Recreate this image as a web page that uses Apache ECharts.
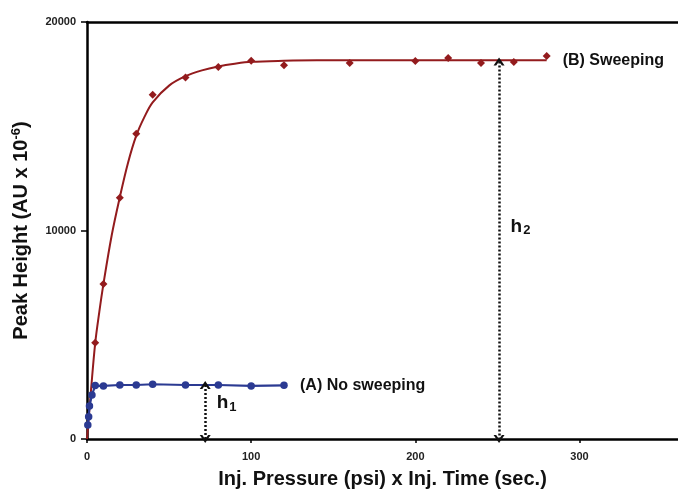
<!DOCTYPE html>
<html>
<head>
<meta charset="utf-8">
<script src="https://cdn.jsdelivr.net/npm/echarts@6/dist/echarts.min.js"></script>
<style>
  html, body { margin: 0; padding: 0; background: #fff; }
  #chart { width: 678px; height: 494px; }
</style>
</head>
<body>
<div id="chart"></div>
<script>
// Injection amount (psi x s) vs. peak height, with and without sweeping
const sweepX = [5, 10, 20, 30, 40, 60, 80, 100, 120, 160, 200, 220, 240, 260, 280];
const sweepY = [4620, 7430, 11570, 14640, 16510, 17340, 17840, 18140, 17920, 18030, 18130, 18270, 18030, 18080, 18370];

// Fitted saturation curve for the sweeping data
const fitX = [0, 2.5, 5, 7.5, 10, 15, 20, 25, 30, 35, 40, 50, 60, 70, 80, 90, 100, 120, 140, 165, 200, 240, 280];
const fitY = [0, 2400, 4600, 6100, 7430, 9750, 11600, 13250, 14550, 15450, 16150, 16950, 17400, 17680, 17870, 18000, 18090, 18140, 18160, 18160, 18160, 18160, 18160];

const noSweepX = [0.5, 1, 1.5, 3, 5, 10, 20, 30, 40, 60, 80, 100, 120];
const noSweepY = [670, 1070, 1580, 2110, 2560, 2545, 2590, 2590, 2625, 2590, 2590, 2545, 2575];

// Height markers h1 and h2: x position, top and bottom of the arrow
const hMarkX = [72, 251];
const hMarkTop = [2590, 18100];
const hNames = ['1', '2'];
const hLabelX = [79, 258];
const hLabelY = [1750, 10200];

const xTicks = [0, 100, 200, 300];
const yTicks = [0, 10000, 20000];

const RED = '#931b1d';
const BLUE = '#2b3a92';
const FONT = '"Liberation Sans", Arial, sans-serif';

const pairs = (xs, ys) => xs.map((x, i) => [x, ys[i]]);

// open arrow head drawn as a thick chevron
const chevron = 'path://M0,8 L5,0 L10,8 L7.6,8 L5,3.8 L2.4,8 Z';

const hLines = hMarkX.map((x, i) => [
  { coord: [x, hMarkTop[i]] },
  { coord: [x, 0] }
]);
const hPoints = hNames.map((n, i) => ({
  coord: [hLabelX[i], hLabelY[i]],
  value: n
}));

const chart = echarts.init(document.getElementById('chart'), null, { renderer: 'canvas' });

chart.setOption({
  backgroundColor: '#ffffff',
  animation: false,
  textStyle: { fontFamily: FONT },
  grid: { left: 87, top: 22, right: -3, bottom: 55, containLabel: false },
  xAxis: [
    {
      type: 'value',
      min: xTicks[0],
      max: 360,
      interval: xTicks[1] - xTicks[0],
      name: 'Inj. Pressure (psi) x Inj. Time (sec.)',
      nameLocation: 'middle',
      nameGap: 30,
      nameTextStyle: { fontSize: 20, fontWeight: 'bold', color: '#111', fontFamily: FONT },
      axisLine: { show: true, onZero: false, lineStyle: { color: '#000', width: 2.5 } },
      axisTick: { show: true, inside: false, length: 4, lineStyle: { color: '#000', width: 1.5 } },
      axisLabel: {
        margin: 12, fontSize: 11, fontWeight: 'bold', color: '#222', fontFamily: FONT,
        showMaxLabel: false,
        formatter: v => (xTicks.includes(v) ? String(v) : '')
      },
      splitLine: { show: false }
    },
    {
      type: 'value',
      position: 'top',
      min: 0,
      max: 360,
      axisLine: { show: true, onZero: false, lineStyle: { color: '#000', width: 2.5 } },
      axisTick: { show: false },
      axisLabel: { show: false },
      splitLine: { show: false }
    }
  ],
  yAxis: {
    type: 'value',
    min: yTicks[0],
    max: yTicks[yTicks.length - 1],
    interval: yTicks[1] - yTicks[0],
    name: '{t|Peak Height (AU x 10}{s|-6}{t|)}',
    nameLocation: 'middle',
    nameGap: 54,
    nameRotate: 90,
    nameTextStyle: {
      fontSize: 20, fontWeight: 'bold', color: '#111', fontFamily: FONT,
      rich: {
        t: { fontSize: 20, fontWeight: 'bold', color: '#111', fontFamily: FONT, lineHeight: 24 },
        s: { fontSize: 13, fontWeight: 'bold', color: '#111', fontFamily: FONT, lineHeight: 24, padding: [0, 0, 10, 0] }
      }
    },
    axisLine: { show: true, onZero: false, lineStyle: { color: '#000', width: 2.5 } },
    axisTick: { show: true, inside: false, length: 6, lineStyle: { color: '#000', width: 1.5 } },
    axisLabel: {
      margin: 11, fontSize: 11, fontWeight: 'bold', color: '#222', fontFamily: FONT,
      formatter: v => String(v)
    },
    splitLine: { show: false }
  },
  series: [
    {
      name: 'Sweeping fit',
      type: 'line',
      data: pairs(fitX, fitY),
      smooth: 0.35,
      showSymbol: false,
      symbol: 'none',
      lineStyle: { color: RED, width: 2 },
      z: 2,
      silent: true,
      endLabel: {
        show: true,
        formatter: '(B) Sweeping',
        distance: 16,
        fontSize: 16, fontWeight: 'bold', color: '#111', fontFamily: FONT
      },
      markLine: {
        silent: true,
        symbol: [chevron, chevron],
        symbolSize: [11, 8],
        label: { show: false },
        lineStyle: { color: '#111', type: [2, 2], width: 2.5 },
        data: hLines
      },
      markPoint: {
        silent: true,
        symbol: 'circle',
        symbolSize: 0,
        label: {
          show: true,
          position: 'right',
          distance: 0,
          formatter: p => '{h|h}{s|' + p.value + '}',
          rich: {
            h: { fontSize: 19, fontWeight: 'bold', color: '#111', fontFamily: FONT, lineHeight: 26 },
            s: { fontSize: 13, fontWeight: 'bold', color: '#111', fontFamily: FONT, lineHeight: 26, padding: [9, 0, 0, 1] }
          }
        },
        data: hPoints
      }
    },
    {
      name: 'Sweeping',
      type: 'scatter',
      data: pairs(sweepX, sweepY),
      symbol: 'diamond',
      symbolSize: 8,
      itemStyle: { color: RED, opacity: 1 },
      z: 3,
      silent: true
    },
    {
      name: 'No sweeping',
      type: 'line',
      data: pairs(noSweepX, noSweepY),
      symbol: 'circle',
      symbolSize: 7.5,
      showSymbol: true,
      lineStyle: { color: BLUE, width: 2.2 },
      itemStyle: { color: BLUE, borderWidth: 0 },
      z: 4,
      silent: true,
      endLabel: {
        show: true,
        formatter: '(A) No sweeping',
        distance: 16,
        fontSize: 16, fontWeight: 'bold', color: '#111', fontFamily: FONT
      }
    }
  ]
});
</script>
</body>
</html>
